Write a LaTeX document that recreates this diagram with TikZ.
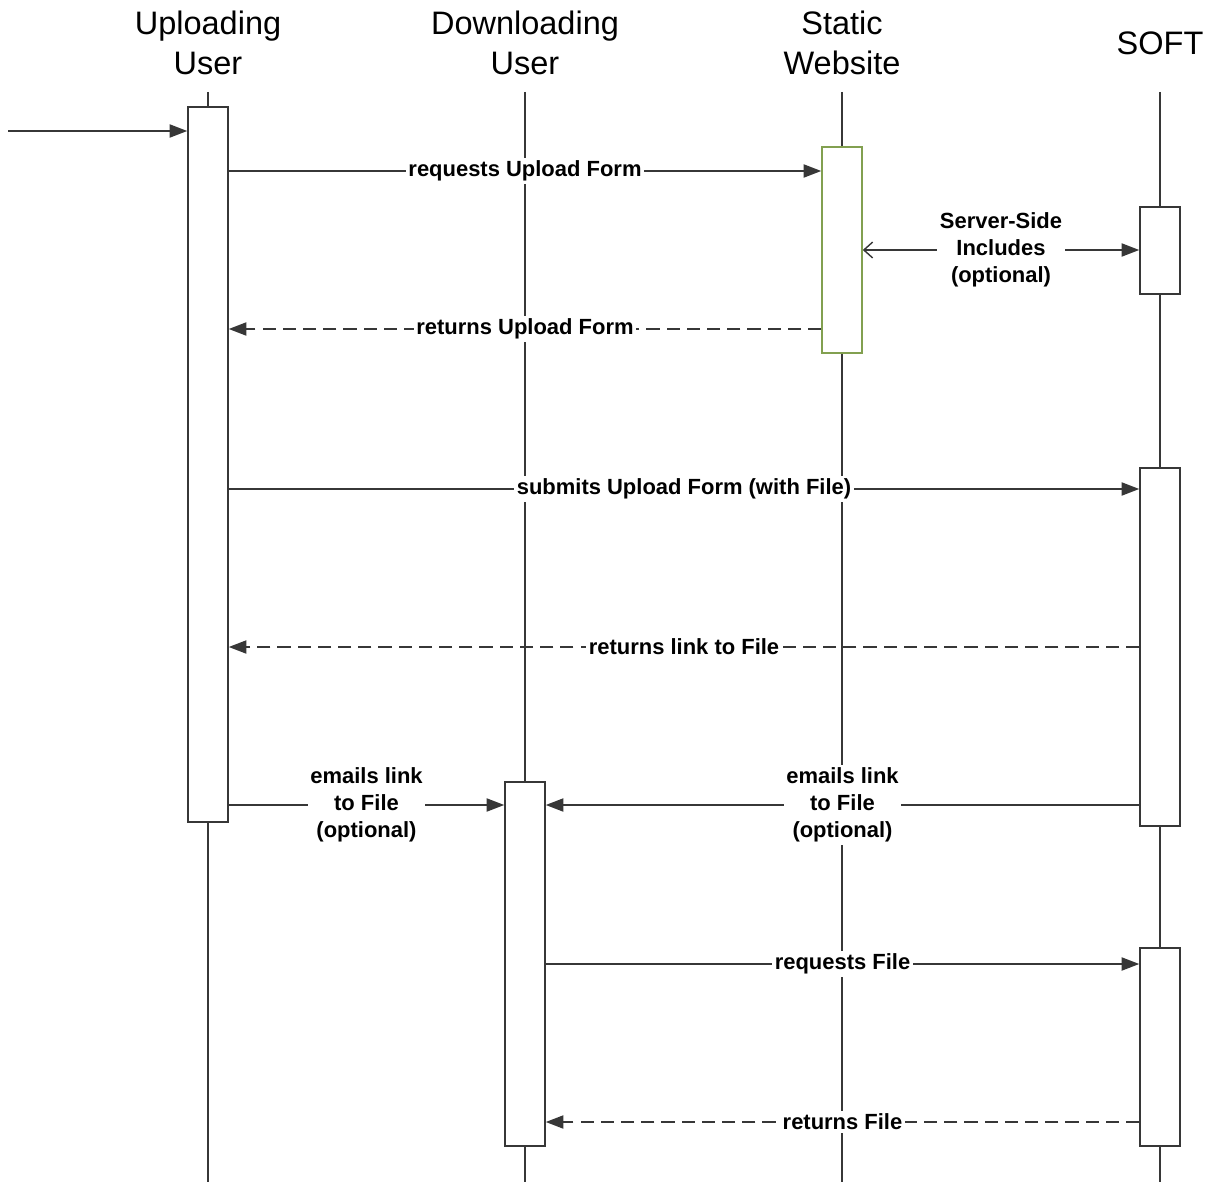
\documentclass[tikz,border=0pt]{standalone}
\usepackage{fontspec}
\setmainfont{Liberation Sans}
\usetikzlibrary{arrows.meta,calc,fit,positioning}

\definecolor{ln}{RGB}{55,55,55}
\definecolor{swgreen}{RGB}{130,160,80}

\begin{document}
\begin{tikzpicture}[x=0.02cm, y=-0.02cm, >={Triangle[length=10pt,width=7.5pt]}]

\tikzstyle{head}=[text centered, align=center, font=\fontsize{18.5}{22.7}\selectfont, inner sep=0]
\tikzstyle{life}=[draw=ln, line width=0.8pt]
\tikzstyle{bar}=[draw=ln, fill=white, line width=0.9pt, inner sep=0]
\tikzstyle{msg}=[->, draw=ln, line width=0.8pt]
\tikzstyle{ret}=[->, draw=ln, line width=0.8pt, dash pattern=on 7.5pt off 4pt]
\tikzstyle{lbl}=[fill=white, align=center, font=\bfseries\fontsize{12.5}{15.3}\selectfont, inner sep=1.5pt]

\useasboundingbox (0,0) rectangle (1210,1182);

% heads
\node(UU)[style = head] at (208,43) {Uploading\\User};
\node(DU)[style = head] at (525,43) {Downloading\\User};
\node(SW)[style = head] at (842,43) {Static\\Website};
\node(SO)[style = head] at (1160,43) {SOFT};

% lifelines
\coordinate(top) at (0,92);
\coordinate(bot) at (0,1182);
\foreach \n in {UU,DU,SW,SO}
  \draw[style = life] (\n.center |- top) -- (\n.center |- bot);

% activations
\node(UUa)[style = bar, fit={(188,107) (228,822)}] {};
\node(DUa)[style = bar, fit={(505,782) (545,1146)}] {};
\node(SWa)[style = bar, draw=swgreen, fit={(822,147) (862,353)}] {};
\node(SOa)[style = bar, fit={(1140,207) (1180,294)}] {};
\node(SOb)[style = bar, fit={(1140,468) (1180,826)}] {};
\node(SOc)[style = bar, fit={(1140,948) (1180,1146)}] {};

% messages
\coordinate(m0) at (8,131);
\draw[style = msg] (m0) -- (UUa.west |- m0);

\coordinate(m1) at (0,171);
\draw[style = msg] (UUa.east |- m1) -- node[lbl]{requests Upload Form} (SWa.west |- m1);

\coordinate(m2) at (0,250);
\draw[draw=ln, line width=0.8pt, {Straight Barb[length=5pt,width=9pt]}->] (SWa.east |- m2) -- node[lbl]{Server-Side\\Includes\\(optional)} (SOa.west |- m2);

\coordinate(m3) at (0,329);
\draw[style = ret] (SWa.west |- m3) -- node[lbl]{returns Upload Form} (UUa.east |- m3);

\coordinate(m4) at (0,489);
\draw[style = msg] (UUa.east |- m4) -- node[lbl]{submits Upload Form (with File)} (SOb.west |- m4);

\coordinate(m5) at (0,647);
\draw[style = ret] (SOb.west |- m5) -- node[lbl]{returns link to File} (UUa.east |- m5);

\coordinate(m6) at (0,805);
\draw[style = msg] (UUa.east |- m6) -- node[lbl]{emails link\\to File\\(optional)} (DUa.west |- m6);
\draw[style = msg] (SOb.west |- m6) -- node[lbl]{emails link\\to File\\(optional)} (DUa.east |- m6);

\coordinate(m7) at (0,964);
\draw[style = msg] (DUa.east |- m7) -- node[lbl]{requests File} (SOc.west |- m7);

\coordinate(m8) at (0,1122);
\draw[style = ret] (SOc.west |- m8) -- node[lbl]{returns File} (DUa.east |- m8);

\end{tikzpicture}
\end{document}
